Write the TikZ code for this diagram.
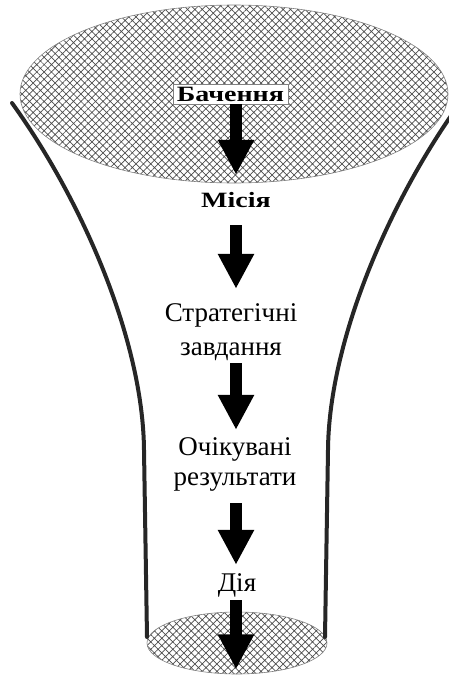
\documentclass[tikz,border=0pt]{standalone}
\usepackage{fontspec}
\usepackage{graphicx}
\setmainfont{Liberation Serif}
\usetikzlibrary{arrows.meta,patterns.meta,shapes.geometric}
\newcommand{\flatbold}[1]{\scalebox{1}[0.78]{\bfseries #1}}
\begin{document}
\begin{tikzpicture}[x=1pt,y=-1pt,
  funnel/.style={line width=4pt, draw=black!85, line cap=round},
  hatched/.style={ellipse, inner sep=0pt, draw=gray, line width=0.6pt,
    pattern={Hatch[angle=45,distance=5.2pt,line width=0.7pt]}, pattern color=black!70},
  bigarrow/.style={line width=12pt, -{Triangle[length=35pt,width=34pt]}},
  lbl/.style={font=\fontsize{27}{34}\selectfont, align=center, inner sep=0pt, text depth=0pt},
  blbl/.style={font=\fontsize{28}{30}\selectfont, inner sep=0pt},
]
\useasboundingbox (0,0) rectangle (448,675);
% ellipses
\node[hatched, minimum width=428, minimum height=178] (top) at (234,94) {};
\node[hatched, minimum width=180, minimum height=62] (bot) at (237,643) {};
% funnel walls
\draw[funnel] (12,103) .. controls (82,200) and (143,340) .. (144,450) -- (147,637);
\draw[funnel] (460,103) .. controls (390,200) and (329,340) .. (328,450) -- (325,637);
% labels
\node[blbl, fill=white, draw=gray, line width=0.6pt, minimum width=115, minimum height=20] (b) at (230.5,94) {\flatbold{Бачення}};
\node[blbl, anchor=base, text height=16pt, text depth=0pt] (m) at (236,207) {\flatbold{Місія}};
\node[lbl, anchor=base, text height=52pt] (s) at (231,355.5) {Стратегічні\\завдання};
\node[lbl, anchor=base, text height=48pt, font=\fontsize{27}{29.5}\selectfont] (o) at (235,485) {Очікувані\\результати};
\node[lbl, anchor=base, text height=18pt] (d) at (237,591) {Дія};
% arrows
\coordinate (ax) at (236,0);
\draw[bigarrow, shorten >=16pt] (b.south -| ax) -- (m.north -| ax);
\draw[bigarrow, shorten <=18pt, shorten >=14.5pt] (m.south -| ax) -- (s.north -| ax);
\draw[bigarrow, shorten <=7.5pt, shorten >=7pt] (s.south -| ax) -- (o.north -| ax);
\draw[bigarrow, shorten <=18pt, shorten >=8pt] (o.south -| ax) -- (d.north -| ax);
\draw[bigarrow, shorten <=9pt, shorten >=5pt] (d.south -| ax) -- (bot.south -| ax);
\end{tikzpicture}
\end{document}
